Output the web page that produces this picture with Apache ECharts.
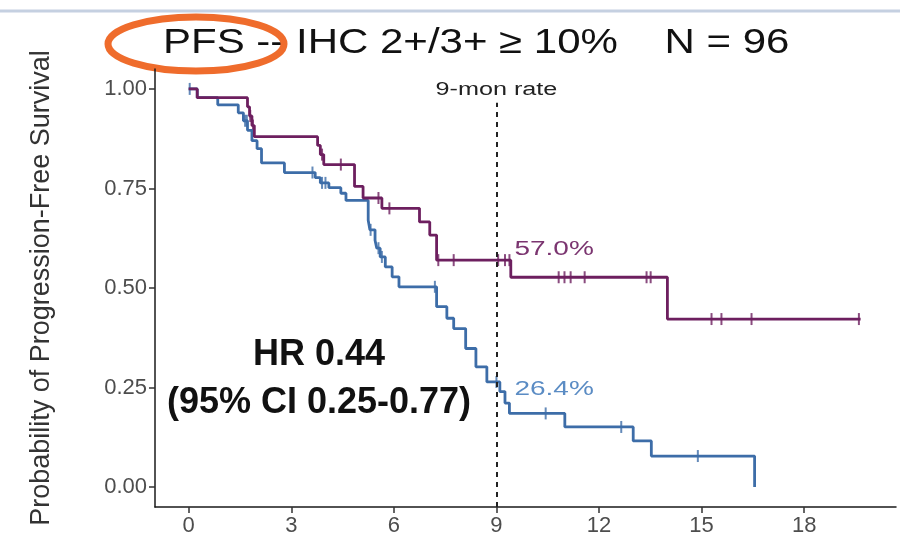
<!DOCTYPE html>
<html>
<head>
<meta charset="utf-8">
<style>
  html, body { margin: 0; padding: 0; background: #ffffff; }
  #chart { width: 900px; height: 537px; }
</style>
<script src="https://cdn.jsdelivr.net/npm/echarts@6/dist/echarts.min.js"></script>
</head>
<body>
<div id="chart"></div>
<script>
// Kaplan-Meier steps: time (months) and survival after the event
const purpleTimes = [0, 0.25, 1.72, 1.78, 1.85, 1.92, 3.77, 3.85, 3.95, 4.85, 5.1, 5.65, 6.75, 7.05, 7.25, 9.42, 14.0, 19.65]
const purpleSurv = [1, 0.978, 0.955, 0.932, 0.908, 0.88, 0.858, 0.835, 0.81, 0.755, 0.726, 0.70, 0.666, 0.633, 0.570, 0.527, 0.422, 0.422]
const purpleCensor = [1.8, 1.88, 3.9, 4.45, 5.55, 5.87, 7.3, 7.75, 9.05, 9.25, 9.38, 10.82, 10.99, 11.17, 11.58, 13.39, 13.51, 15.29, 15.58, 16.46, 19.6]

const blueTimes = [0, 0.25, 0.85, 1.45, 1.6, 1.72, 1.85, 2.0, 2.13, 2.8, 3.7, 3.85, 4.1, 4.45, 4.6, 5.25, 5.3, 5.45, 5.5, 5.6, 5.75, 5.95, 6.15, 7.25, 7.55, 7.75, 8.1, 8.4, 8.72, 9.1, 9.25, 9.38, 11.0, 13.0, 13.53, 16.55]
const blueSurv = [1, 0.978, 0.96, 0.94, 0.92, 0.896, 0.87, 0.85, 0.814, 0.79, 0.777, 0.764, 0.752, 0.738, 0.72, 0.67, 0.646, 0.62, 0.60, 0.578, 0.553, 0.528, 0.503, 0.453, 0.424, 0.398, 0.348, 0.302, 0.264, 0.24, 0.211, 0.185, 0.151, 0.116, 0.078, 0]
const blueCensor = [0.03, 1.65, 1.7, 3.62, 3.9, 4.0, 5.32, 5.55, 5.65, 7.2, 9.0, 10.44, 12.65, 14.89]

const xTicks = [0, 3, 6, 9, 12, 15, 18]
const yTicks = [0, 0.25, 0.5, 0.75, 1]
const rateMonth = 9
const rateAt9 = { purple: '57.0%', blue: '26.4%' }

const purple = '#6d1f5f'
const blue = '#3d6da8'

function pairs(ts, ss) {
  return ts.map((t, i) => [t, ss[i]])
}
// censored marks sit on the curve, so read the level from the steps
function levelAt(ts, ss, t) {
  let s = ss[0]
  for (let i = 0; i < ts.length; i++) {
    if (ts[i] <= t) s = ss[i]
  }
  return s
}
function censorMarks(cs, ts, ss) {
  return cs.map(c => [c, levelAt(ts, ss, c)])
}

const chart = echarts.init(document.getElementById('chart'))
const font = 'Liberation Sans, Arial, sans-serif'

chart.setOption({
  backgroundColor: '#ffffff',
  animation: false,
  grid: { left: 155, right: 4, top: 69, bottom: 30 },
  xAxis: {
    type: 'value',
    min: -0.985,
    max: 20.685,
    splitLine: { show: false },
    axisLine: { onZero: false, lineStyle: { color: '#1a1a1a', width: 1.5 } },
    axisTick: { customValues: xTicks, length: 6, lineStyle: { color: '#333', width: 1.5 } },
    axisLabel: { customValues: xTicks, color: '#4d4d4d', fontSize: 22, fontFamily: font, margin: 8 }
  },
  yAxis: {
    type: 'value',
    min: -0.05,
    max: 1.05,
    name: 'Probability of Progression-Free Survival',
    nameLocation: 'middle',
    nameGap: 100,
    nameTextStyle: { color: '#333', fontSize: 27, fontFamily: font },
    splitLine: { show: false },
    axisLine: { onZero: false, lineStyle: { color: '#1a1a1a', width: 1.5 } },
    axisTick: { customValues: yTicks, length: 6, lineStyle: { color: '#333', width: 1.5 } },
    axisLabel: {
      customValues: yTicks,
      color: '#4d4d4d',
      fontSize: 22,
      fontFamily: font,
      margin: 8,
      formatter: v => v.toFixed(2)
    }
  },
  series: [
    {
      name: 'blue',
      type: 'line',
      step: 'end',
      showSymbol: false,
      lineStyle: { color: blue, width: 2.8 },
      data: pairs(blueTimes, blueSurv)
    },
    {
      name: 'blue censor',
      type: 'scatter',
      symbol: 'rect',
      symbolSize: [2, 12],
      itemStyle: { color: blue },
      data: censorMarks(blueCensor, blueTimes, blueSurv)
    },
    {
      name: 'purple',
      type: 'line',
      step: 'end',
      showSymbol: false,
      lineStyle: { color: purple, width: 2.8 },
      data: pairs(purpleTimes, purpleSurv),
      markLine: {
        silent: true,
        symbol: 'none',
        lineStyle: { color: '#222', type: [5, 5], width: 2 },
        label: { show: false },
        data: [[{ coord: [rateMonth, -0.05] }, { coord: [rateMonth, 0.965] }]]
      }
    },
    {
      name: 'purple censor',
      type: 'scatter',
      symbol: 'rect',
      symbolSize: [2, 12],
      itemStyle: { color: purple },
      data: censorMarks(purpleCensor, purpleTimes, purpleSurv)
    }
  ]
})

// text annotations anchored on the data scale
const pPurple = chart.convertToPixel({ gridIndex: 0 }, [rateMonth, levelAt(purpleTimes, purpleSurv, rateMonth)])
const pBlue = chart.convertToPixel({ gridIndex: 0 }, [rateMonth, levelAt(blueTimes, blueSurv, rateMonth)])
const pTop = chart.convertToPixel({ gridIndex: 0 }, [rateMonth, 0.965])

chart.setOption({
  graphic: [
    {
      type: 'line',
      shape: { x1: 0, y1: 11, x2: 900, y2: 11 },
      style: { stroke: '#c5d0e1', lineWidth: 3 }
    },
    {
      type: 'text',
      x: 163,
      y: 43,
      scaleX: 1.2,
      style: {
        text: 'PFS -- IHC 2+/3+ \u2265 10%    N = 96',
        fontSize: 35,
        fontFamily: font,
        fill: '#111',
        verticalAlign: 'middle'
      }
    },
    {
      type: 'ellipse',
      shape: { cx: 196, cy: 44, rx: 88, ry: 27 },
      style: { fill: 'none', stroke: '#ef6c2c', lineWidth: 7 }
    },
    {
      type: 'text',
      x: pTop[0],
      y: pTop[1] - 13,
      scaleX: 1.4,
      style: {
        text: '9-mon rate',
        fontSize: 18,
        fontFamily: font,
        fill: '#222',
        align: 'center',
        verticalAlign: 'middle'
      }
    },
    {
      type: 'text',
      x: pPurple[0] + 18,
      y: pPurple[1] - 11,
      scaleX: 1.4,
      style: {
        text: rateAt9.purple,
        fontSize: 20,
        fontFamily: font,
        fill: '#7b3570',
        verticalAlign: 'middle'
      }
    },
    {
      type: 'text',
      x: pBlue[0] + 18,
      y: pBlue[1] + 8,
      scaleX: 1.4,
      style: {
        text: rateAt9.blue,
        fontSize: 20,
        fontFamily: font,
        fill: '#5b8cc4',
        verticalAlign: 'middle'
      }
    },
    {
      type: 'text',
      x: 319,
      y: 355,
      style: {
        text: 'HR 0.44',
        fontSize: 36,
        fontWeight: 'bold',
        fontFamily: font,
        fill: '#111',
        align: 'center',
        verticalAlign: 'middle'
      }
    },
    {
      type: 'text',
      x: 319,
      y: 403,
      style: {
        text: '(95% CI 0.25-0.77)',
        fontSize: 36,
        fontWeight: 'bold',
        fontFamily: font,
        fill: '#111',
        align: 'center',
        verticalAlign: 'middle'
      }
    }
  ]
})
</script>
</body>
</html>
